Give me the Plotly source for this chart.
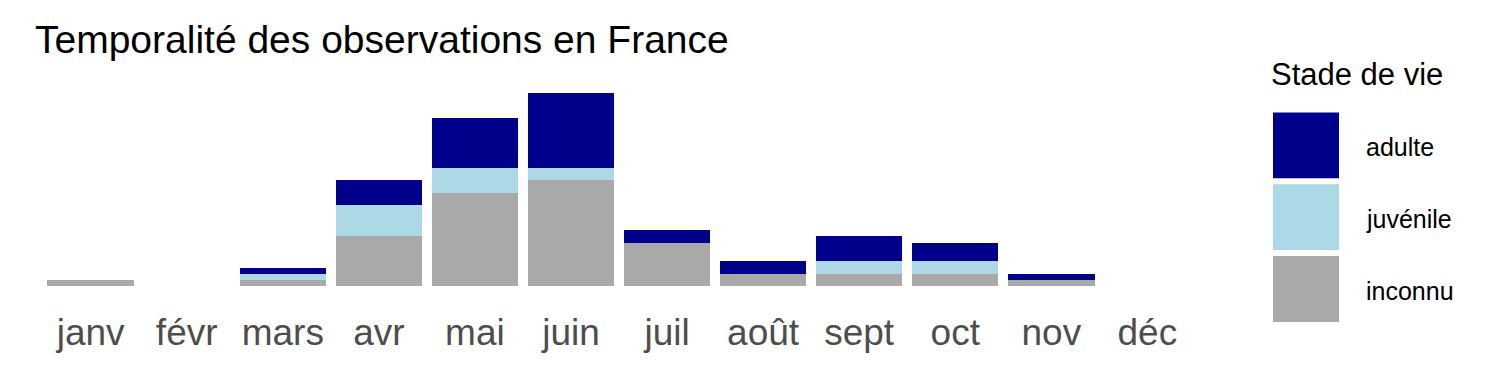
import plotly.graph_objects as go

months = ["janv", "févr", "mars", "avr", "mai", "juin", "juil", "août", "sept", "oct", "nov", "déc"]
stages = ["adulte", "juvénile", "inconnu"]
adulte = [0, 0, 1, 4, 8, 12, 2, 2, 4, 3, 1, 0]
juvenile = [0, 0, 1, 5, 4, 2, 0, 0, 2, 2, 0, 0]
inconnu = [1, 0, 1, 8, 15, 17, 7, 2, 2, 2, 1, 0]
colors = {"adulte": "#00008B", "juvénile": "#ADD8E6", "inconnu": "#A9A9A9"}

W, H = 1500, 375
L, R, T, B = 33, 295, 82.5, 79
PW = W - L - R
PH = H - T - B

fig = go.Figure()
# stacked from bottom: inconnu, juvénile, adulte
for name, vals in [("inconnu", inconnu), ("juvénile", juvenile), ("adulte", adulte)]:
    fig.add_trace(go.Bar(x=months, y=vals, name=name, marker_color=colors[name],
                         marker_line_width=0, showlegend=False))

ymax = max(a + j + i for a, j, i in zip(adulte, juvenile, inconnu))
pad = 0.05 * ymax

fig.update_layout(
    barmode="stack",
    bargap=0.1,
    width=W, height=H,
    margin=dict(l=L, r=R, t=T, b=B, pad=0),
    plot_bgcolor="white", paper_bgcolor="white",
    font=dict(family="Liberation Sans, Arial, sans-serif"),
    title=dict(text="Temporalité des observations en France", x=35 / W, xanchor="left",
               xref="container", yref="container", y=1 - 39 / H, yanchor="middle",
               font=dict(size=39, color="black")),
    xaxis=dict(range=[-0.6, len(months) - 0.4], showgrid=False, zeroline=False, showline=False,
               tickfont=dict(size=37, color="#4D4D4D"), ticks="outside", ticklen=4,
               tickcolor="rgba(0,0,0,0)"),
    yaxis=dict(range=[-pad, ymax + pad], showgrid=False, zeroline=False, showline=False,
               showticklabels=False),
)

def px(x):
    return (x - L) / PW

def py(y):
    return 1 - (y - T) / PH

# manual legend
fig.add_annotation(text="Stade de vie", x=px(1269), y=py(74), xref="paper", yref="paper",
                   xanchor="left", yanchor="middle", showarrow=False,
                   font=dict(size=31, color="black"))
key_top = 112
for k, name in enumerate(stages):
    y0 = key_top + k * 72
    fig.add_shape(type="rect", xref="paper", yref="paper", x0=px(1273), x1=px(1339),
                  y0=py(y0), y1=py(y0 + 66), fillcolor=colors[name], line_width=0)
    fig.add_annotation(text=name, x=px(1364), y=py(y0 + 35), xref="paper", yref="paper",
                       xanchor="left", yanchor="middle", showarrow=False,
                       font=dict(size=25, color="black"))

fig.write_html("out.html")
